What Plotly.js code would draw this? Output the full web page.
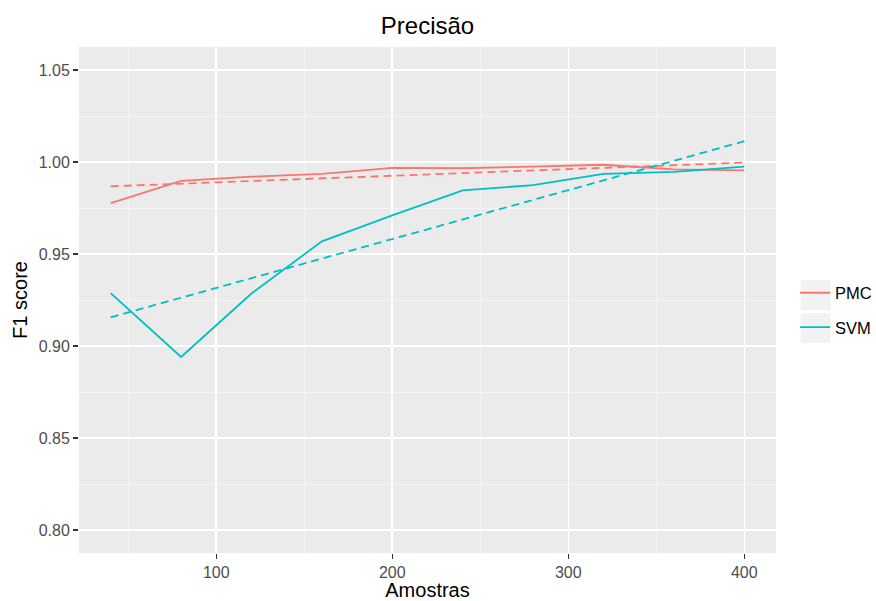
<!DOCTYPE html>
<html>
<head>
<meta charset="utf-8">
<script src="https://cdn.plot.ly/plotly-3.0.1.min.js"></script>
<style>html,body{margin:0;padding:0;background:#fff;}#chart{width:876px;height:601px;}</style>
</head>
<body>
<div id="chart"></div>
<script>
// Data
const amostras = [40, 80, 120, 160, 200, 240, 280, 320, 360, 400];
const pmc = [0.9777, 0.9897, 0.9920, 0.9935, 0.9968, 0.9966, 0.9975, 0.9985, 0.9960, 0.9955];
const svm = [0.9287, 0.8940, 0.9285, 0.9569, 0.9710, 0.9846, 0.9874, 0.9935, 0.9946, 0.9975];
// Linear trend lines (dashed), endpoints
const trendX = [40, 400];
const pmcTrend = [0.9868, 0.9997];
const svmTrend = [0.9156, 1.0113];
const seriesNames = ['PMC', 'SVM'];
const colors = ['#F8766D', '#00BFC4'];

const traces = [
  {x: amostras, y: pmc, name: seriesNames[0], mode: 'lines', line: {color: colors[0], width: 1.8}, legendgroup: 'a'},
  {x: amostras, y: svm, name: seriesNames[1], mode: 'lines', line: {color: colors[1], width: 1.8}, legendgroup: 'b'},
  {x: trendX, y: pmcTrend, name: seriesNames[0], mode: 'lines', line: {color: colors[0], width: 1.8, dash: '8px,5px'}, showlegend: false},
  {x: trendX, y: svmTrend, name: seriesNames[1], mode: 'lines', line: {color: colors[1], width: 1.8, dash: '8px,5px'}, showlegend: false}
];

const FONT = 'Liberation Sans, Arial, sans-serif';
const axisCommon = {
  showline: false, zeroline: false,
  gridcolor: '#FFFFFF', gridwidth: 1.6,
  ticks: 'outside', ticklen: 5, tickwidth: 1.4, tickcolor: '#333333',
  tickfont: {family: FONT, size: 16, color: '#4D4D4D'}
};

const layout = {
  width: 876, height: 601,
  margin: {l: 79, r: 100, t: 47, b: 48},
  paper_bgcolor: '#FFFFFF', plot_bgcolor: '#EBEBEB',
  font: {family: FONT, color: '#000'},
  title: {text: 'Precisão', x: 0.5, xref: 'paper', xanchor: 'center', y: 1 - 26 / 601, yref: 'container', yanchor: 'middle',
          font: {size: 24, color: '#000'}},
  xaxis: Object.assign({}, axisCommon, {
    range: [22, 418], tickvals: [100, 200, 300, 400], ticktext: ['100', '200', '300', '400'],
    minor: {tickvals: [50, 150, 250, 350], showgrid: true, gridcolor: '#F5F5F5', gridwidth: 0.9, ticks: ''},
    title: {text: 'Amostras', font: {size: 20, color: '#000'}, standoff: 4},
    automargin: false
  }),
  yaxis: Object.assign({}, axisCommon, {
    range: [0.7875, 1.0625], tickvals: [0.80, 0.85, 0.90, 0.95, 1.00, 1.05],
    ticktext: ['0.80', '0.85', '0.90', '0.95', '1.00', '1.05'],
    minor: {tickvals: [0.825, 0.875, 0.925, 0.975, 1.025], showgrid: true, gridcolor: '#F5F5F5', gridwidth: 0.9, ticks: ''},
    title: {text: 'F1 score', font: {size: 20, color: '#000'}, standoff: 5},
    automargin: false
  }),
  showlegend: true,
  legend: {
    xref: 'container', yref: 'container',
    x: 795 / 876, xanchor: 'left', y: 1 - 310 / 601, yanchor: 'middle',
    bgcolor: 'rgba(0,0,0,0)', borderwidth: 0,
    font: {family: FONT, size: 16.5, color: '#000'},
    tracegroupgap: 10, itemwidth: 30
  },
  shapes: [
    {type: 'rect', xref: 'paper', yref: 'paper', x0: 1.0354, x1: 1.0785, y0: 0.480, y1: 0.5395, fillcolor: '#F2F2F2', line: {width: 0}, layer: 'below'},
    {type: 'rect', xref: 'paper', yref: 'paper', x0: 1.0354, x1: 1.0785, y0: 0.415, y1: 0.474, fillcolor: '#F2F2F2', line: {width: 0}, layer: 'below'}
  ]
};

Plotly.newPlot('chart', traces, layout, {displayModeBar: false, staticPlot: true});
</script>
</body>
</html>
